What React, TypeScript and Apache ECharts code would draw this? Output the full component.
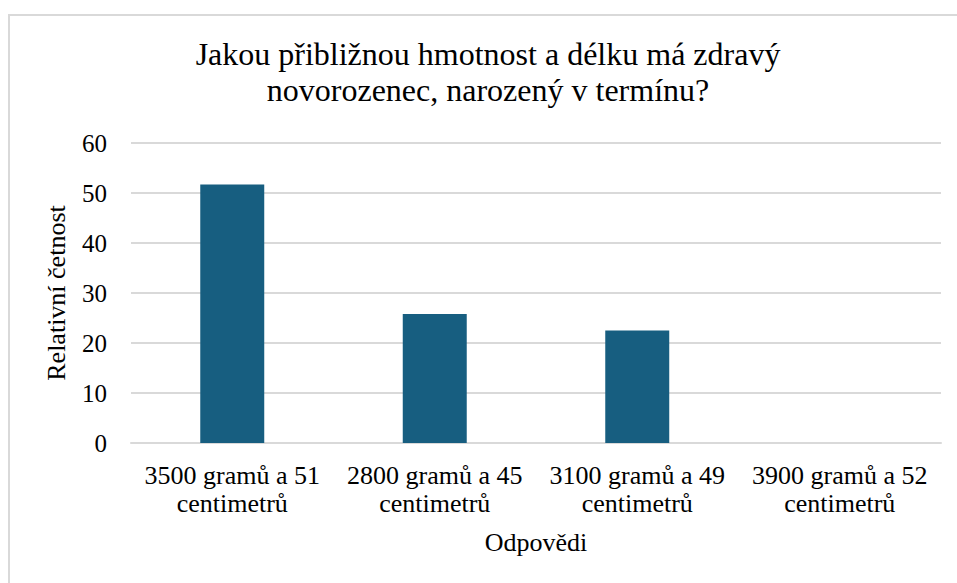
import React, { useEffect, useRef } from "react";
import * as echarts from "echarts";

const titleLines = ["Jakou přibližnou hmotnost a délku má zdravý", "novorozenec, narozený v termínu?"];
const categories = [
  "3500 gramů a 51 centimetrů",
  "2800 gramů a 45 centimetrů",
  "3100 gramů a 49 centimetrů",
  "3900 gramů a 52 centimetrů",
];
const values = [51.7, 25.8, 22.5, 0];
const yAxisName = "Relativní četnost";
const xAxisName = "Odpovědi";

const FONT = "Times New Roman";

export default function App() {
  const ref = useRef<HTMLDivElement>(null);
  useEffect(() => {
    document.body.style.margin = "0";
    const chart = echarts.init(ref.current!, null, { renderer: "svg" });
    chart.setOption({
      animation: false,
      backgroundColor: "#ffffff",
      textStyle: { fontFamily: FONT },
      graphic: [
        {
          type: "rect",
          shape: { x: 9, y: 15, width: 980, height: 600 },
          style: { fill: "none", stroke: "#d9d9d9", lineWidth: 2 },
          silent: true,
        },
        {
          type: "text",
          x: 488,
          y: 36,
          style: {
            text: titleLines.join("\n"),
            fontFamily: FONT,
            fontSize: 32,
            lineHeight: 36,
            fill: "#000000",
            align: "center",
            verticalAlign: "top",
          },
        },
      ],
      grid: { left: 131, right: 16, top: 143, bottom: 140, containLabel: false },
      xAxis: {
        type: "category",
        data: categories,
        name: xAxisName,
        nameLocation: "middle",
        nameGap: 86,
        nameTextStyle: { fontFamily: FONT, fontSize: 26, color: "#000", verticalAlign: "top" },
        axisLine: { show: true, lineStyle: { color: "#d9d9d9", width: 2 } },
        axisTick: { show: false },
        axisLabel: {
          fontFamily: FONT,
          fontSize: 26,
          color: "#000",
          lineHeight: 28,
          margin: 18,
          interval: 0,
          formatter: (v: string) => v.replace(/ (centimetrů)$/, "\n$1"),
        },
      },
      yAxis: {
        type: "value",
        min: 0,
        max: 60,
        interval: 10,
        name: yAxisName,
        nameLocation: "middle",
        nameGap: 62,
        nameTextStyle: { fontFamily: FONT, fontSize: 26, color: "#000" },
        axisLine: { show: false },
        axisTick: { show: false },
        axisLabel: { fontFamily: FONT, fontSize: 25, color: "#000", margin: 24 },
        splitLine: { lineStyle: { color: "#d9d9d9", width: 2 } },
      },
      series: [
        {
          type: "bar",
          data: values,
          barWidth: "31.6%",
          itemStyle: { color: "#175E80" },
        },
      ],
    });
    return () => chart.dispose();
  }, []);
  return <div ref={ref} style={{ position: "absolute", left: 0, top: 0, width: 957, height: 583 }} />;
}
